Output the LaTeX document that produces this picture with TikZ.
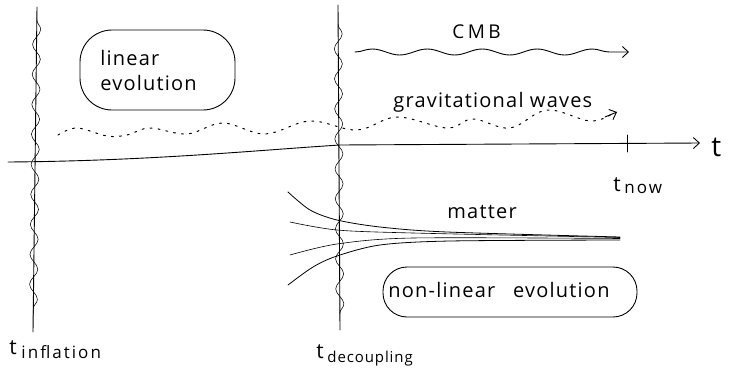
\documentclass[tikz,border=0pt]{standalone}
\usepackage{fontspec}
\setmainfont{Open Sans}
\newfontfamily\hand[LetterSpace=6]{Open Sans}
\newfontfamily\handsub[LetterSpace=12]{Open Sans}
\newfontfamily\handwide[LetterSpace=18]{Open Sans}
\usetikzlibrary{decorations.pathmorphing,arrows.meta,calc}
\begin{document}
\begin{tikzpicture}[x=1pt,y=-1pt,line width=0.9pt,line cap=round,
  lbl/.style={inner sep=0pt,anchor=base west,font=\hand\fontsize{20}{22}\selectfont},
  sublbl/.style={inner sep=0pt,anchor=base west,font=\handsub\fontsize{17}{19}\selectfont},
  tlbl/.style={inner sep=0pt,anchor=base west,font=\fontsize{21}{23}\selectfont},
  blob/.style={draw,inner sep=0pt},
  wig/.style={line width=0.55pt,decorate,decoration={snake,amplitude=4pt,segment length=30pt}},
  tip/.style={-{Straight Barb[length=6pt,width=11pt]}}]
\fill[white] (0,0) rectangle (739,383);
\useasboundingbox (0,0) rectangle (739,383);

% vertical time markers
\coordinate (inflT) at (37,7);
\coordinate (inflB) at (33,332);
\coordinate (decT) at (338,5);
\coordinate (decB) at (340,330);
\draw (inflT) -- (inflB);
\draw[wig] ($(inflT)!0.04!(inflB)$) -- ($(inflT)!0.95!(inflB)$);
\draw (decT) -- (decB);
\draw[wig] ($(decT)!0.06!(decB)$) -- ($(decT)!0.95!(decB)$);

% time axis
\coordinate (axL) at (8,162);
\coordinate (axM) at (340,145);
\coordinate (axR) at (700,143);
\draw[tip] (axL) .. controls (150,161) and (260,150) .. (axM) -- (axR);
\coordinate (tickT) at (627,135);
\coordinate (tickB) at (627,152);
\draw (tickT) -- (tickB);
\node[inner sep=0pt,anchor=base west,font=\fontsize{28}{30}\selectfont] (tlab) at (711,156) {t};

% CMB
\node[inner sep=0pt,anchor=base west,font=\handwide\fontsize{19}{21}\selectfont] (cmb) at (452,38) {CMB};
\coordinate (cmbL) at (355,52);
\coordinate (cmbR) at (629,52);
\draw[tip,decorate,decoration={snake,amplitude=3pt,segment length=55pt,post length=4pt}] (cmbL) -- (cmbR);

% gravitational waves
\node[lbl] (gw) at (393,107) {gravitational waves};
\draw[line width=1pt,dash pattern=on 2pt off 6pt] plot[smooth,tension=0.6] coordinates {
 (58,135) (77,128) (107,136) (127,135) (150,128) (187,134) (223,123) (265,134) (310,121)
 (357,130) (397,117) (447,128) (473,119) (510,128) (547,110) (590,121) (612,114)};
\coordinate (gwA) at (605,117);
\coordinate (gwB) at (617,112);
\draw[line width=0.9pt,tip] (gwA) -- (gwB);

% linear evolution
\node[blob,rounded corners=32pt,minimum width=155pt,minimum height=80pt] (linbox) at (157.5,70) {};
\node[lbl] (lin1) at (100,65) {linear};
\node[lbl] (lin2) at (100,90) {evolution};

% matter
\node[lbl] (matter) at (447,218) {matter};
\draw[line width=0.8pt] plot[smooth] coordinates {(288,192) (310,210) (337,220) (380,227) (447,232) (620,237)};
\draw[line width=0.6pt] plot[smooth] coordinates {(290,222) (337,230) (413,233) (620,237.5)};
\draw[line width=0.6pt] plot[smooth] coordinates {(290,255) (337,244) (413,238) (620,238.5)};
\draw[line width=0.8pt] plot[smooth] coordinates {(288,285) (313,267) (337,256) (380,245) (450,241) (620,240)};

% non-linear evolution
\node[blob,rounded corners=24pt,minimum width=254pt,minimum height=50pt] (nlbox) at (510,292) {};
\node[lbl] (nl) at (388,297) {non-linear\hspace{18pt}evolution};

% time labels
\node[tlbl] (tinf) at (9,354) {t};
\node[sublbl] (inf) at (21,358) {inflation};
\node[tlbl] (tdec) at (316,358) {t};
\node[sublbl,font=\hand\fontsize{15}{17}\selectfont] (dec) at (327,362) {decoupling};
\node[tlbl] (tnow) at (613,191) {t};
\node[sublbl] (now) at (624,193) {now};
\end{tikzpicture}
\end{document}
